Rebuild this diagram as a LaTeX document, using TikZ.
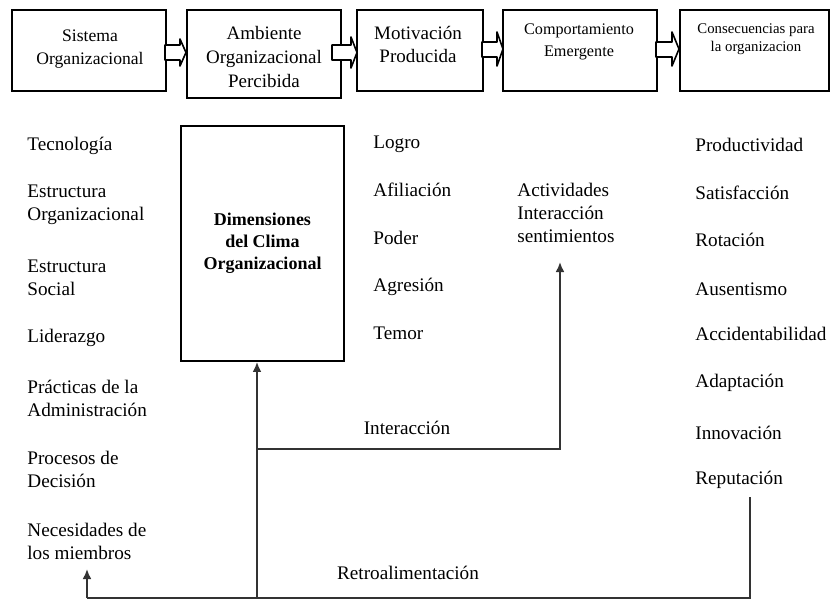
\documentclass[tikz,border=0pt]{standalone}
\usepackage{fontspec}
\setmainfont{Liberation Serif}
\usetikzlibrary{arrows.meta}
\newcommand\blkarr[7]{%
  \draw[blockarr] (#1,#4) -- (#2,#4) -- (#2,#6) -- (#3,{(#6+#7)/2}) -- (#2,#7) -- (#2,#5) -- (#1,#5) -- cycle;}
\begin{document}
\begin{tikzpicture}[x=0.5pt,y=-0.5pt,
  topbox/.style={draw, line width=0.9pt, inner sep=0pt},
  boxtxt/.style={align=center, inner sep=0pt},
  item/.style={anchor=west, align=left, inner sep=0pt, font=\fontsize{9.6}{11.5}\selectfont},
  conn/.style={draw=black!80, line width=0.9pt},
  arr/.style={conn, -{Latex[length=5pt,width=4.4pt]}},
  blockarr/.style={draw, fill=white, line width=0.8pt, line join=round}]
\useasboundingbox[fill=white] (0,0) rectangle (831,600);

% top boxes
\node[topbox, minimum width=77pt, minimum height=40.5pt] (b1) at (89,50.5) {};
\node[topbox, minimum width=77pt, minimum height=44pt] (b2) at (264,54) {};
\node[topbox, minimum width=63pt, minimum height=40.5pt] (b3) at (420,50.5) {};
\node[topbox, minimum width=77pt, minimum height=40.5pt] (b4) at (580,50.5) {};
\node[topbox, minimum width=74.5pt, minimum height=40.5pt] (b5) at (754.5,50.5) {};

\node[boxtxt, font=\fontsize{8.8}{11.5}\selectfont] (t1) at (90,49) {Sistema\\Organizacional};
\node[boxtxt, font=\fontsize{9.5}{12}\selectfont] (t2) at (264,57) {Ambiente\\Organizacional\\Percibida};
\node[boxtxt, font=\fontsize{9.5}{11.5}\selectfont] (t3) at (418,44) {Motivación\\Producida};
\node[boxtxt, font=\fontsize{8.1}{11}\selectfont] (t4) at (579,42) {Comportamiento\\Emergente};
\node[boxtxt, font=\fontsize{7.4}{9}\selectfont] (t5) at (756,39) {Consecuencias para\\la organizacion};

% block arrows
\blkarr{165}{180}{186}{45}{60}{39}{66}
\blkarr{332}{351}{357}{45}{60}{37}{68}
\blkarr{482}{497}{503}{42}{57}{32}{66}
\blkarr{656}{672}{679}{42}{57}{32}{66}

% left column
\node[item] (tec) at (27,146) {Tecnología};
\node[item] (eo) at (27,205) {Estructura\\Organizacional};
\node[item] (es) at (27,278) {Estructura\\Social};
\node[item] (lid) at (27,338) {Liderazgo};
\node[item] (pra) at (27,398) {Prácticas de la\\Administración};
\node[item] (pro) at (27,469) {Procesos de\\Decisión};
\node[item] (nec) at (27,541) {Necesidades de\\los miembros};

% dimensiones box
\node[topbox, minimum width=81.5pt, minimum height=117.5pt, align=center,
      font=\bfseries\fontsize{9}{11}\selectfont] (dim) at (262.5,243.5)
      {Dimensiones\\del Clima\\Organizacional};

% motivation column
\node[item] (log) at (373,144) {Logro};
\node[item] (afi) at (373,190) {Afiliación};
\node[item] (pod) at (373,238) {Poder};
\node[item] (agr) at (373,287) {Agresión};
\node[item] (tem) at (373,333) {Temor};

% comportamiento
\node[item] (act) at (517,213) {Actividades\\Interacción\\sentimientos};

% consequences
\node[item] (prod) at (695,145) {Productividad};
\node[item] (sat) at (695,193) {Satisfacción};
\node[item] (rot) at (695,240) {Rotación};
\node[item] (aus) at (695,289) {Ausentismo};
\node[item] (acc) at (695,334) {Accidentabilidad};
\node[item] (ada) at (695,383) {Adaptación};
\node[item] (inn) at (695,433) {Innovación};
\node[item] (rep) at (695,480) {Reputación};

% labels
\node[item, anchor=center] (linter) at (407,428) {Interacción};
\node[item, anchor=center] (lretro) at (408,573) {Retroalimentación};

% connectors
\coordinate (repout) at (750,497);
\coordinate (bR) at (750,598);
\coordinate (bM) at (257,598);
\coordinate (bL) at (87,598);
\coordinate (jI) at (257,449);
\coordinate (actin) at (560,262);
\coordinate (necin) at (87,569);

\draw[conn] (repout) -- (bR) -- (bL);
\draw[arr] (bL) -- (necin);
\draw[arr] (bM) -- (dim.south -| bM);
\draw[arr] (jI) -- (jI -| actin) -- (actin);
\end{tikzpicture}
\end{document}
